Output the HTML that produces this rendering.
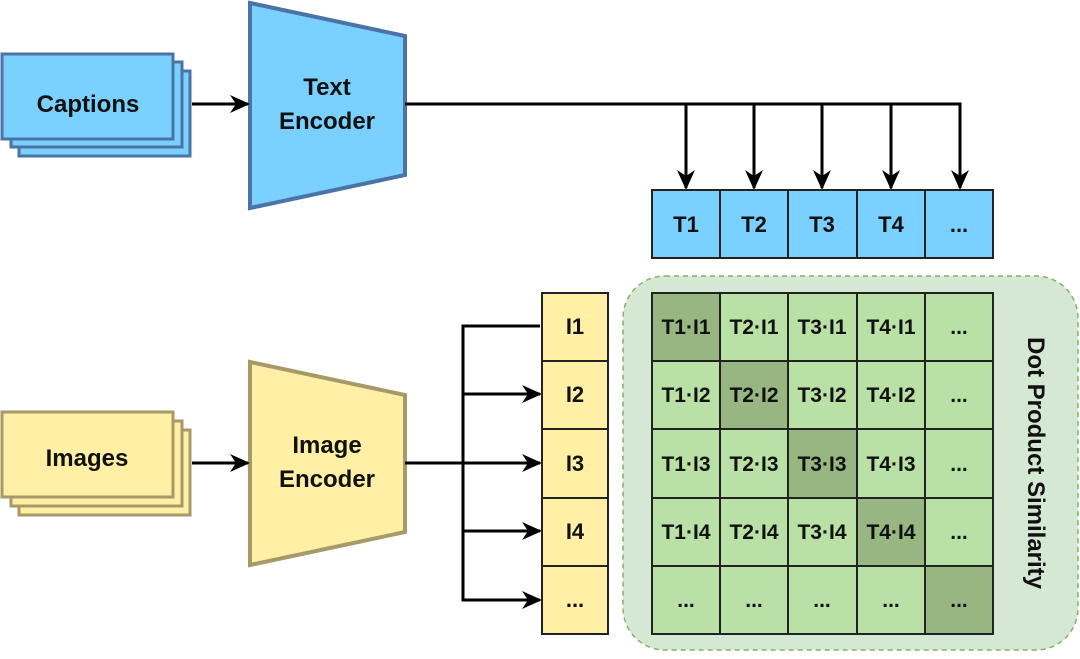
<!DOCTYPE html>
<html><head><meta charset="utf-8"><style>
html,body{margin:0;padding:0;background:#fff;}
svg text{font-family:"Liberation Sans",sans-serif;font-weight:bold;fill:#111;}
</style></head><body>
<svg width="1080" height="654" viewBox="0 0 1080 654" xmlns="http://www.w3.org/2000/svg">
<defs>
<marker id="ah" markerWidth="10" markerHeight="10" refX="9" refY="5" orient="auto" markerUnits="userSpaceOnUse" viewBox="0 0 10 10">
<path d="M0,0 L10,5 L0,10 L3,5 Z" fill="#000"/>
</marker>
<marker id="ahd" markerWidth="20" markerHeight="20" refX="18" refY="10" orient="auto" markerUnits="userSpaceOnUse" viewBox="0 0 20 20">
<path d="M0,1 L20,10 L0,19 L6,10 Z" fill="#000"/>
</marker>
</defs>
<!-- green container -->
<rect x="623" y="276" width="455" height="374" rx="42" fill="#d5e8d4" stroke="#82b366" stroke-width="1.5" stroke-dasharray="5,4"/>
<!-- captions stack -->
<g fill="#7ad0ff" stroke="#4a74a8" stroke-width="3">
<rect x="19" y="71" width="171" height="85"/>
<rect x="11" y="62" width="171" height="85"/>
<rect x="2" y="54" width="171" height="85"/>
</g>
<text x="88" y="112" font-size="24" text-anchor="middle">Captions</text>
<!-- images stack -->
<g fill="#fff0a5" stroke="#a89a66" stroke-width="3">
<rect x="19" y="430" width="171" height="85"/>
<rect x="11" y="421" width="171" height="85"/>
<rect x="2" y="412" width="171" height="85"/>
</g>
<text x="87" y="466" font-size="24" text-anchor="middle">Images</text>
<!-- encoders -->
<polygon points="250,3 405,36 405,175 250,208" fill="#7ad0ff" stroke="#4a74a8" stroke-width="4"/>
<text x="327" y="95" font-size="24" text-anchor="middle">Text</text>
<text x="327" y="129" font-size="24" text-anchor="middle">Encoder</text>
<polygon points="250,362 405,395 405,532 250,565" fill="#fff0a5" stroke="#a89a66" stroke-width="4"/>
<text x="327" y="453" font-size="24" text-anchor="middle">Image</text>
<text x="327" y="487" font-size="24" text-anchor="middle">Encoder</text>
<!-- arrows -->
<g stroke="#000" stroke-width="3" fill="none">
<line x1="192" y1="104" x2="248" y2="104" marker-end="url(#ahd)"/>
<line x1="192" y1="463" x2="248" y2="463" marker-end="url(#ahd)"/>
<polyline points="405,104 960,104 960,188" marker-end="url(#ahd)"/>
<line x1="686" y1="104" x2="686" y2="188" marker-end="url(#ahd)"/>
<line x1="754" y1="104" x2="754" y2="188" marker-end="url(#ahd)"/>
<line x1="822" y1="104" x2="822" y2="188" marker-end="url(#ahd)"/>
<line x1="891" y1="104" x2="891" y2="188" marker-end="url(#ahd)"/>
<line x1="405" y1="463" x2="540" y2="463" marker-end="url(#ahd)"/>
<polyline points="540,326 463,326 463,600 540,600" marker-end="url(#ahd)"/>
<line x1="463" y1="394" x2="540" y2="394" marker-end="url(#ahd)"/>
<line x1="463" y1="531" x2="540" y2="531" marker-end="url(#ahd)"/>
</g>
<!-- T row -->
<g stroke="#222" stroke-width="2" fill="#7ad0ff">
<rect x="652" y="190" width="68" height="68"/>
<rect x="720" y="190" width="68" height="68"/>
<rect x="788" y="190" width="69" height="68"/>
<rect x="857" y="190" width="68" height="68"/>
<rect x="925" y="190" width="68" height="68"/>
</g>
<g font-size="22" text-anchor="middle">
<text x="686" y="232">T1</text><text x="754" y="232">T2</text><text x="822" y="232">T3</text><text x="891" y="232">T4</text><text x="959" y="232">...</text>
</g>
<!-- I column -->
<g stroke="#222" stroke-width="2" fill="#fff0a5">
<rect x="542" y="293" width="66" height="68"/>
<rect x="542" y="361" width="66" height="68"/>
<rect x="542" y="429" width="66" height="69"/>
<rect x="542" y="498" width="66" height="68"/>
<rect x="542" y="566" width="66" height="68"/>
</g>
<g font-size="22" text-anchor="middle">
<text x="575" y="334">I1</text><text x="575" y="402">I2</text><text x="575" y="471">I3</text><text x="575" y="539">I4</text><text x="575" y="607">...</text>
</g>
<!-- grid -->
<g stroke="#222" stroke-width="2">
<rect x="652" y="293" width="341" height="341" fill="#b9e0a5"/>
<rect x="652" y="293" width="68" height="68" fill="#97b682"/>
<rect x="720" y="361" width="68" height="68" fill="#97b682"/>
<rect x="788" y="429" width="69" height="69" fill="#97b682"/>
<rect x="857" y="498" width="68" height="68" fill="#97b682"/>
<rect x="925" y="566" width="68" height="68" fill="#97b682"/>
<line x1="720" y1="293" x2="720" y2="634"/><line x1="788" y1="293" x2="788" y2="634"/>
<line x1="857" y1="293" x2="857" y2="634"/><line x1="925" y1="293" x2="925" y2="634"/>
<line x1="652" y1="361" x2="993" y2="361"/><line x1="652" y1="429" x2="993" y2="429"/>
<line x1="652" y1="498" x2="993" y2="498"/><line x1="652" y1="566" x2="993" y2="566"/>
</g>
<g font-size="21" text-anchor="middle">
<text x="686" y="334">T1·I1</text><text x="754" y="334">T2·I1</text><text x="822" y="334">T3·I1</text><text x="891" y="334">T4·I1</text><text x="959" y="334">...</text>
<text x="686" y="402">T1·I2</text><text x="754" y="402">T2·I2</text><text x="822" y="402">T3·I2</text><text x="891" y="402">T4·I2</text><text x="959" y="402">...</text>
<text x="686" y="471">T1·I3</text><text x="754" y="471">T2·I3</text><text x="822" y="471">T3·I3</text><text x="891" y="471">T4·I3</text><text x="959" y="471">...</text>
<text x="686" y="539">T1·I4</text><text x="754" y="539">T2·I4</text><text x="822" y="539">T3·I4</text><text x="891" y="539">T4·I4</text><text x="959" y="539">...</text>
<text x="686" y="607">...</text><text x="754" y="607">...</text><text x="822" y="607">...</text><text x="891" y="607">...</text><text x="959" y="607">...</text>
</g>
<text x="0" y="0" font-size="24" text-anchor="middle" transform="translate(1028,463) rotate(90)">Dot Product Similarity</text>
</svg>
</body></html>
